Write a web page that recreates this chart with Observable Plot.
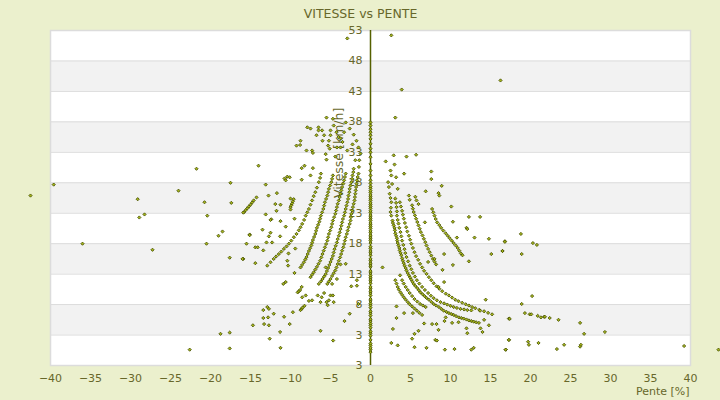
<!DOCTYPE html>
<html><head><meta charset="utf-8">
<script src="https://cdn.jsdelivr.net/npm/d3@7"></script>
<script src="https://cdn.jsdelivr.net/npm/@observablehq/plot@0.6"></script>
<style>
html,body{margin:0;padding:0;background:#ebf0cd;}
#chart{width:720px;height:400px;}
</style>
</head><body><div id="chart"></div>
<script>
const title = "VITESSE vs PENTE";
const xLabel = "Pente [%]";
const yLabel = "Vitesse [km/h]";
const xTicks = [-40,-35,-30,-25,-20,-15,-10,-5,0,5,10,15,20,25,30,35,40];
const yTicks = [-2,3,8,13,18,23,28,33,38,43,48,53];
const yTickLabels = ["3","3","8","13","18","23","28","33","38","43","48","53"];
const bands = [[3,8],[13,18],[23,28],[33,38],[43,48]];

// speed values recorded at zero slope
const zeroSlopeSpeeds = [0.2,0.6,0.9,1.3,1.6,2.2,2.9,3.3,3.6,4.2,4.6,4.9,5.3,5.6,6.2,6.6,6.9,7.5,7.9,8.2,8.6,8.9,9.5,9.9,10.2,10.6,10.9,11.5,11.9,12.2,12.5,12.8,13.2,13.5,14.2,14.5,14.8,15.2,15.5,16.1,16.5,16.8,17.2,17.5,18.1,18.5,18.8,19.1,19.4,19.8,20.1,20.5,20.8,21.1,21.4,21.8,22.1,22.4,22.7,23.1,23.4,23.8,24.1,24.4,24.7,25.1,25.4,25.7,26,26.4,26.7,27.1,27.4,27.9,28.4,29.2,30,31.1,32.2,33,33.6,34.4,35.2,35.8,36.3,36.8,37.4,37.9];

const rightCurveA = [[2.3,27.3],[2.4,26.2],[2.5,25.5],[2.6,24.8],[2.5,23.2],[2.55,23.9],[2.6,22.6],[2.75,21.8],[2.8,21.4],[2.9,21.0],[3.0,20.6],[3.05,20.2],[3.1,19.7],[3.2,19.3],[3.3,18.9],[3.35,18.5],[3.4,18.1],[3.5,17.7],[3.6,17.3],[3.65,16.9],[3.75,16.5],[3.85,16.1],[3.95,15.6],[4.05,15.2],[4.15,14.8],[4.25,14.4],[4.4,14.0],[4.5,13.6],[4.65,13.2],[4.8,12.8],[4.95,12.45],[5.1,12.1],[5.25,11.75],[5.4,11.4],[5.6,11.05],[5.85,10.7],[6.05,10.35],[6.25,10.0],[6.5,9.7],[6.75,9.4],[7.0,9.1],[7.3,8.8],[7.6,8.45],[7.9,8.1],[8.2,7.85],[8.55,7.6],[8.85,7.3],[9.15,7.0],[9.5,6.8],[9.8,6.6],[10.1,6.45],[10.4,6.3],[10.7,6.1],[11.05,5.9],[11.35,5.8],[11.65,5.7],[12.0,5.55],[12.3,5.4],[12.6,5.3],[12.9,5.2],[13.2,5.1],[13.55,5.0]];
const rightCurveB = [[3.1,25.4],[3.2,24.7],[3.25,24.0],[3.3,23.3],[3.3,22.6],[3.4,21.9],[3.5,21.3],[3.6,20.6],[3.75,19.9],[3.85,19.2],[3.95,18.5],[4.1,17.8],[4.25,17.1],[4.35,16.45],[4.5,15.8],[4.7,15.1],[4.9,14.4],[5.1,13.8],[5.3,13.2],[5.55,12.6],[5.8,12.0],[6.1,11.45],[6.45,10.9],[6.8,10.4],[7.2,9.9],[7.55,9.45],[7.9,9.05],[8.3,8.7],[8.75,8.4],[9.2,8.2],[9.6,8.0],[10.0,7.8],[10.4,7.6],[10.8,7.45],[11.25,7.3],[11.7,7.2],[12.1,7.1],[12.6,7.05]];
const rightCurveC = [[3.67,24.8],[3.8,24.1],[3.95,23.4],[4.05,22.75],[4.17,22.1],[4.3,21.4],[4.46,20.7],[4.6,20.0],[4.8,19.3],[4.95,18.65],[5.1,18.0],[5.3,17.3],[5.5,16.6],[5.7,15.95],[5.96,15.35],[6.2,14.7],[6.46,14.1],[6.7,13.55],[7.0,13.05],[7.3,12.5],[7.6,12.0],[7.9,11.5],[8.25,11.0],[8.6,10.6],[8.96,10.2],[9.4,9.8],[9.8,9.5],[10.2,9.15],[10.6,8.8],[11.0,8.55],[11.46,8.3],[11.9,8.05],[12.3,7.85],[12.7,7.6],[13.1,7.4],[13.6,7.15],[14.2,6.9],[14.7,6.65],[15.2,6.4]];
const rightCurveD = [[5.2,24.3],[5.3,23.75],[5.4,23.2],[5.55,22.65],[5.7,22.1],[5.85,21.55],[6.0,21.0],[6.15,20.45],[6.3,19.9],[6.5,19.35],[6.67,18.8],[6.85,18.25],[7.0,17.7],[7.2,17.15],[7.4,16.6],[7.6,16.05],[7.8,15.5],[8.0,15.05],[8.2,14.6]];
const rightCurveE = [[7.7,23.7],[7.85,23.15],[8.0,22.6],[8.15,22.05],[8.33,21.5],[8.6,21.05],[8.83,20.6],[9.1,20.15],[9.4,19.7],[9.65,19.3],[9.9,18.9],[10.15,18.5],[10.4,18.1],[10.65,17.7],[10.9,17.3],[11.1,16.85],[11.3,16.4]];
const rightCurveF = [[3.1,12.0],[3.25,11.45],[3.4,10.9],[3.55,10.45],[3.75,10.0],[3.95,9.6],[4.17,9.2],[4.4,8.8],[4.67,8.4],[4.9,8.05],[5.2,7.7],[5.5,7.35],[5.8,7.0],[6.1,6.65],[6.45,6.3]];
const rightCurveG = [[3.95,12.0],[4.15,11.45],[4.4,10.9],[4.65,10.4],[4.9,9.9],[5.2,9.4],[5.5,8.9],[5.85,8.5],[6.2,8.1],[6.55,7.85],[6.9,7.6]];

const leftCurve1 = [[-12.9,14.4],[-12.5,14.95],[-12.1,15.5],[-11.8,15.9],[-11.46,16.3],[-11.15,16.7],[-10.83,17.15],[-10.5,17.55],[-10.2,18.0],[-9.9,18.5],[-9.58,19.06],[-9.25,19.6],[-8.96,20.2],[-8.75,20.7],[-8.54,21.25],[-8.3,21.9],[-8.1,22.6],[-7.9,23.15],[-7.7,23.7],[-7.5,24.4],[-7.3,25.1],[-7.1,25.8],[-6.9,26.45],[-6.7,27.2],[-6.46,28.1],[-6.3,28.8],[-6.2,29.5]];
const leftCurve2 = [[-8.75,14.1],[-8.55,14.5],[-8.33,14.95],[-8.15,15.4],[-8.0,15.8],[-7.85,16.3],[-7.7,16.8],[-7.55,17.25],[-7.4,17.7],[-7.3,18.15],[-7.2,18.6],[-7.05,19.1],[-6.9,19.6],[-6.8,20.1],[-6.7,20.6],[-6.55,21.1],[-6.4,21.6],[-6.3,22.1],[-6.2,22.6],[-6.05,23.15],[-5.9,23.7],[-5.8,24.25],[-5.7,24.8],[-5.55,25.35],[-5.4,25.9],[-5.3,26.45],[-5.2,27.0],[-5.05,27.55],[-4.9,28.1],[-4.8,28.65],[-4.7,29.2]];
const leftCurve3 = [[-7.5,12.5],[-7.3,12.9],[-7.1,13.3],[-6.9,13.75],[-6.7,14.2],[-6.5,14.7],[-6.3,15.2],[-6.15,15.75],[-6.0,16.3],[-5.85,16.85],[-5.7,17.4],[-5.55,17.95],[-5.4,18.5],[-5.3,19.05],[-5.2,19.6],[-5.05,20.15],[-4.9,20.7],[-4.8,21.25],[-4.7,21.8],[-4.55,22.35],[-4.4,22.9],[-4.3,23.45],[-4.2,24.0],[-4.1,24.55],[-3.96,25.1],[-3.85,25.65],[-3.75,26.2],[-3.65,26.75],[-3.55,27.3],[-3.4,27.85],[-3.3,28.4],[-3.2,28.95],[-3.1,29.5]];
const leftCurve4 = [[-6.46,11.4],[-6.2,11.8],[-6.0,12.2],[-5.8,12.6],[-5.6,13.0],[-5.45,13.5],[-5.3,14.0],[-5.15,14.5],[-5.0,15.0],[-4.85,15.5],[-4.7,16.0],[-4.6,16.55],[-4.5,17.1],[-4.35,17.65],[-4.2,18.2],[-4.1,18.75],[-3.96,19.3],[-3.85,19.85],[-3.75,20.4],[-3.65,20.95],[-3.55,21.5],[-3.45,22.05],[-3.3,22.6],[-3.2,23.15],[-3.1,23.7],[-3.0,24.25],[-2.9,24.8],[-2.8,25.35],[-2.75,25.9],[-2.65,26.45],[-2.6,27.0],[-2.5,27.55],[-2.4,28.1],[-2.3,28.65],[-2.25,29.2],[-2.15,29.75],[-2.1,30.3]];
const leftCurve5 = [[-5.4,11.4],[-5.2,11.8],[-5.0,12.2],[-4.8,12.7],[-4.6,13.15],[-4.4,13.6],[-4.25,14.1],[-4.1,14.65],[-3.96,15.2],[-3.8,15.75],[-3.67,16.3],[-3.55,16.85],[-3.4,17.4],[-3.3,17.95],[-3.2,18.5],[-3.1,19.05],[-2.96,19.6],[-2.85,20.15],[-2.75,20.7],[-2.6,21.25],[-2.5,21.8],[-2.45,22.35],[-2.4,22.9],[-2.3,23.45],[-2.2,24.0],[-2.1,24.55],[-2.0,25.1],[-1.95,25.65],[-1.9,26.2],[-1.85,26.75],[-1.8,27.3],[-1.75,27.85],[-1.7,28.4],[-1.6,28.95],[-1.5,29.5],[-1.45,30.6],[-1.4,31.7]];
const leftShortChains = [[-15.8,23.2],[-15.6,23.5],[-15.4,23.8],[-15.2,24.1],[-15.0,24.4],[-14.8,24.75],[-14.6,25.1],[-14.25,25.6],[-10,24.0],[-9.9,24.3],[-9.8,24.6],[-9.7,24.95],[-9.6,25.3],[-9.1,10.0],[-8.95,10.2],[-8.8,10.4],[-8.6,10.9],[-8.75,7.1],[-8.6,7.3],[-8.5,7.5],[-8.25,7.8]];

const scatterLeft = [[-42.5,25.9],[-39.6,27.7],[-36.0,18.0],[-29.1,25.3],[-28.9,22.3],[-28.25,22.8],[-27.25,17.0],[-24.0,26.7],[-21.75,30.3],[-20.75,24.8],[-20.4,22.6],[-20.5,18.0],[-19.0,19.3],[-18.5,20.0],[-17.5,28.0],[-17.4,24.7],[-17.6,15.7],[-15.9,15.5],[-15.9,23.1],[-15.5,18.0],[-15.1,19.5],[-18.75,3.2],[-17.6,3.4],[-17.6,0.8],[-22.6,0.6],
[-14,30.8],[-13.1,27.7],[-12.75,25.9],[-12.4,22.0],[-13.1,22.8],[-13.5,20.3],[-12.5,19.8],[-13,18.2],[-13.4,16.9],[-14.4,17.4],[-10.75,28.7],[-10.4,29.0],[-10,25.4],[-10.0,23.6],[-9.4,17.2],[-10.25,16.4],[-9.25,34.1],[-8.75,34.9],[-8,33.3],[-8.25,30.8],[-7.5,36.9],[-6.5,36.6],[-6,34.9],[-5.5,38.7],[-5.1,33.6],[-4.6,37.4],[-4.25,36.3],[-3.75,35.3],[-3.1,37.9],[-2.6,36.9],[-2.1,35.9],[-1.75,34.9],[-1.5,33.8],[-1.25,32.8],[-1.9,31.7],[-2.25,34.3],[-2.9,33.3],
[-11.7,26.3],[-11.9,24.5],[-11.75,23.4],[-11.25,24.4],[-12.5,21.9],[-11.25,21.7],[-10.6,20.8],[-12.7,19.2],[-15.1,19.4],[-14.1,17.4],[-16.0,15.5],[-14.4,14.8],[-12.3,18.2],[-11.3,19.2],[-10.6,28.4],[-10.1,28.9],[-9.5,22.1],[-10.3,14.4],[-9.5,13.2],[-10.9,11.4],[-10.6,11.7],[-8.54,9.2],[-8.1,9.5],[-7.7,8.6],[-7.3,8.7],[-9.7,6.75],[-10.8,6.0],[-10.1,4.8],[-12.1,6.5],[-12.9,7.6],[-12.7,7.3],[-13.4,7.1],[-13.4,5.8],[-12.8,5.9],[-13.3,4.8],[-12.7,4.6],[-14.7,4.6],[-11.3,3.5],[-12.6,2.4],[-11.25,0.9],[-6.25,3.7],[-4.67,2.1],
[-4.7,38.5],[-7.9,37.1],[-6.5,37.1],[-6.05,36.6],[-5.0,36.6],[-6.75,35.8],[-5.8,35.8],[-5.0,35.8],[-5.2,34.9],[-4.0,35.5],[-3.5,34.7],[-3.3,36.3],[-8.8,34.2],[-7.3,33.3],[-7.2,32.9],[-5.6,32.7],[-5.3,34.1],[-5.5,31.8],[-4.2,33.8],[-3.75,33.8],[-4.4,32.3],[-8.6,30.4],[-7.2,30.4],[-7.5,29.2],[-8.6,28.5],[-10.4,15.2],[-5.6,14.1],[-3.75,14.6],[-3.1,14.7],[-4.2,12.2],[-4.8,11.4],
[-5.0,9.5],[-5.2,8.7],[-5.5,8.4],[-5.35,7.9],[-4.7,9.5],[-4.6,8.4],[-6.25,8.4],[-6.1,9.2],[-5.8,9.9],[-6.6,9.5],[-1.7,12.0],[-1.7,11.1],[-2.4,11.0],[-1.5,8.1],[-2.6,6.5],[-3.25,5.3]];

const scatterRight = [[-2.9,51.7],[2.6,52.2],[16.25,44.8],[3.9,43.3],[3.1,38.7],
[2.9,32.5],[1.9,31.5],[3.0,31.0],[4.5,32.3],[5.7,32.6],[2.5,30.0],[2.6,29.2],[3.2,28.9],[4.2,29.5],[7.6,29.85],[7.6,28.6],[2.2,28.1],[2.7,27.8],[3.4,27.0],[8.9,27.5],[6.9,26.6],[8.5,26.3],[8.6,25.9],[4.8,25.9],[5.6,25.7],[4.9,25.2],[5.75,25.1],[6.0,24.5],[10.1,24.1],[12.3,22.4],[13.7,22.4],[10.3,21.6],[12.0,20.6],[12.1,20.4],[6.8,21.5],[10.8,19.0],[13.0,19.0],[14.8,18.8],[16.8,18.4],[16.5,16.8],[15.1,16.3],[11.5,16.1],[9.2,16.3],[12.3,15.1],[8.0,15.5],[7.2,15.0],[10.3,14.5],[9.0,13.7],[9.2,11.7],[8.5,10.9],[1.5,14.1],[3.7,12.8],[14.4,8.8],[17.3,5.7],[14.8,4.6],[14.2,5.5],[13.75,4.1],[14.0,3.5],[13.7,7.0],[12.0,4.1],[12.1,3.3],[11.0,5.1],[10.2,5.0],[9.4,5.9],[9.25,5.3],[8.5,3.85],[7.7,4.8],[6.7,4.9],[8.25,4.8],[3.25,7.7],[3.25,5.8],[4.2,6.6],[5.3,6.6],[2.8,4.0],[6.0,3.7],[5.5,3.2],[5.2,2.4],[8.1,2.2],[8.3,2.1],[2.6,1.7],[3.4,1.3],[5.5,1.0],[7.0,0.9],[9.3,0.6],[10.5,0.7],[12.6,0.6],[12.9,0.9],[16.9,0.6],[17.3,2.2],
[18.8,19.6],[16.8,18.3],[20.3,18.1],[20.8,17.8],[16.5,16.8],[18.9,16.3],[20.2,9.4],[18.9,8.1],[17.4,5.66],[19.3,6.6],[19.9,6.4],[20.1,6.4],[20.9,6.15],[21.3,5.9],[21.7,6.0],[21.8,6.0],[22.4,5.8],[23.5,5.5],[26.2,5.0],[26.7,3.2],[29.3,3.5],[17.3,2.2],[16.9,0.6],[19.7,1.9],[19.8,1.4],[21.0,1.7],[23.3,0.7],[24.2,1.4],[26.2,1.1],[26.3,1.4],[39.2,1.2],[43.5,0.6]];

const points = [
  ...zeroSlopeSpeeds.map(v => [0, v]),
  ...rightCurveA, ...rightCurveB, ...rightCurveC, ...rightCurveD, ...rightCurveE, ...rightCurveF, ...rightCurveG,
  ...leftCurve1, ...leftCurve2, ...leftCurve3, ...leftCurve4, ...leftCurve5, ...leftShortChains,
  ...scatterLeft, ...scatterRight
].map(([pente, vitesse]) => ({pente, vitesse}));

const ink = "#67672a";
const chart = Plot.plot({
  width: 720, height: 400,
  marginLeft: 50, marginRight: 30, marginTop: 30, marginBottom: 35,
  style: {background: "transparent", fontFamily: "DejaVu Sans", color: ink, overflow: "visible"},
  x: {domain: [-40, 40]},
  y: {domain: [-2, 53], axis: null},
  marks: [
    Plot.frame({fill: "white", stroke: null}),
    Plot.rect(bands, {y1: d => d[0], y2: d => d[1], fill: "#f2f2f2"}),
    Plot.ruleY(yTicks, {stroke: "#dcdcdc", strokeWidth: 1}),
    Plot.frame({stroke: "#dcdcdc", strokeWidth: 1.5}),
    Plot.axisX(xTicks, {tickSize: 0, tickPadding: 9, fontSize: 11, fill: ink, label: null}),
    Plot.text([xLabel], {frameAnchor: "bottom-right", dy: 29, dx: -1, textAnchor: "end", fontSize: 11, fill: ink}),
    Plot.text([title], {frameAnchor: "top", dy: -21, dx: -10, fontSize: 12.5, fill: ink}),
    Plot.text([yLabel], {frameAnchor: "left", dx: 288, rotate: -90, fontSize: 12.5, fill: ink}),
    Plot.ruleX([0], {stroke: "#556000", strokeWidth: 1.5}),
    Plot.text(yTicks.map((v, i) => ({v, label: yTickLabels[i]})), {x: () => 0, y: "v", text: "label", textAnchor: "end", dx: -8, fontSize: 11, fill: ink}),
    Plot.dot(points, {x: "pente", y: "vitesse", symbol: "diamond2", r: 1.45, fill: "#a6b61a", stroke: "#475000", strokeWidth: 0.85})
  ]
});
document.getElementById("chart").appendChild(chart);
</script>
</body></html>
